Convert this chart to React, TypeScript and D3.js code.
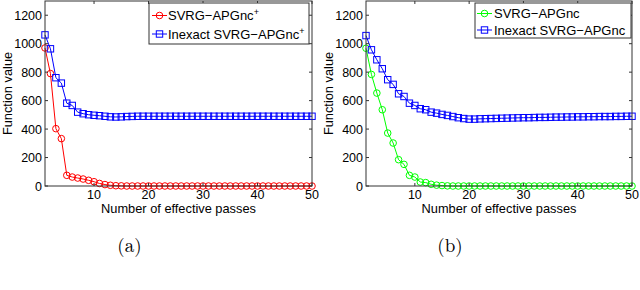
import React from 'react';
import * as d3 from 'd3';

const passes = d3.range(1, 51);

const svrgPlus = [970, 790, 403, 333, 75, 63, 56, 49, 40, 30, 18, 10, 5, 2, 1, 0, 0, 0, 0, 0,
  0, 0, 0, 0, 0, 0, 0, 0, 0, 0, 0, 0, 0, 0, 0, 0, 0, 0, 0, 0, 0, 0, 0, 0, 0, 0, 0, 0, 0, 0];
const inexactPlus = [1062, 964, 761, 723, 582, 566, 519, 508, 501, 497, 494, 490, 486, 485, 486, 488, 489, 490, 490, 490,
  490, 490, 490, 490, 490, 490, 490, 490, 490, 490, 490, 490, 490, 490, 490, 490, 490, 490, 490, 490,
  490, 490, 490, 490, 490, 490, 490, 490, 490, 490];

const svrg = [968, 784, 653, 536, 372, 302, 185, 152, 75, 63, 28, 24, 12, 6, 3, 1, 0, 0, 0, 0,
  0, 0, 0, 0, 0, 0, 0, 0, 0, 0, 0, 0, 0, 0, 0, 0, 0, 0, 0, 0, 0, 0, 0, 0, 0, 0, 0, 0, 0, 0];
const inexact = [1057, 957, 887, 824, 747, 714, 648, 629, 582, 566, 543, 536, 519, 512, 503, 496, 488, 480, 474, 470,
  470, 472, 473, 474, 475, 476, 477, 478, 479, 480, 480, 481, 482, 482, 483, 484, 484, 485, 485, 486,
  486, 487, 487, 488, 488, 488, 489, 489, 490, 490];

const yTicks = [0, 200, 400, 600, 800, 1000, 1200];
const xTicks = [10, 20, 30, 40, 50];

const FONT = '"Liberation Sans", Arial, Helvetica, sans-serif';
const AXIS = '#333';

type Series = { name: string; sup: boolean; values: number[]; color: string; marker: 'circle' | 'square' };

const Marker = ({ kind, x, y, color }: { kind: string; x: number; y: number; color: string }) =>
  kind === 'circle' ? (
    <circle cx={x} cy={y} r={3.3} fill="none" stroke={color} strokeWidth={1} />
  ) : (
    <rect x={x - 3.2} y={y - 3.2} width={6.4} height={6.4} fill="none" stroke={color} strokeWidth={1} />
  );

const Panel = ({ left, right, series, legend, caption }: {
  left: number; right: number; series: Series[];
  legend: { x0: number; x1: number; y0: number; y1: number; rows: number[]; sx: number; tx: number };
  caption: string;
}) => {
  const top = 1, bottom = 186;
  const x = d3.scaleLinear().domain([1, 50]).range([left, right]);
  const y = d3.scaleLinear().domain([0, 1300]).range([bottom, top]);
  const line = d3.line<number>().x((_, i) => x(passes[i])).y((d) => y(d));
  const cx = (left + right) / 2;

  return (
    <g>
      {series.map((s) => (
        <g key={s.name}>
          <path d={line(s.values) || ''} fill="none" stroke={s.color} strokeWidth={1} />
          {s.values.map((v, i) => (
            <Marker key={i} kind={s.marker} x={x(passes[i])} y={y(v)} color={s.color} />
          ))}
        </g>
      ))}
      <rect x={left} y={top} width={right - left} height={bottom - top} fill="none" stroke={AXIS} strokeWidth={1} />
      {yTicks.map((t) => (
        <g key={t}>
          <line x1={left} x2={left + 3} y1={y(t)} y2={y(t)} stroke={AXIS} />
          <line x1={right} x2={right - 3} y1={y(t)} y2={y(t)} stroke={AXIS} />
          <text x={left - 3} y={y(t)} dy="0.36em" textAnchor="end" fontSize={12.5} fontFamily={FONT}>{t}</text>
        </g>
      ))}
      {xTicks.map((t) => (
        <g key={t}>
          <line x1={x(t)} x2={x(t)} y1={bottom} y2={bottom - 3} stroke={AXIS} />
          <line x1={x(t)} x2={x(t)} y1={top} y2={top + 3} stroke={AXIS} />
          <text x={x(t)} y={198.5} textAnchor="middle" fontSize={12.5} fontFamily={FONT}>{t}</text>
        </g>
      ))}
      <text x={cx} y={212.5} textAnchor="middle" fontSize={12.8} fontFamily={FONT}>Number of effective passes</text>
      <text transform={`translate(${left - 33.5},${(top + bottom) / 2}) rotate(-90)`} textAnchor="middle"
        fontSize={12.8} fontFamily={FONT}>Function value</text>

      <rect x={legend.x0} y={legend.y0} width={legend.x1 - legend.x0} height={legend.y1 - legend.y0}
        fill="#fff" stroke={AXIS} strokeWidth={1} />
      {series.map((s, i) => (
        <g key={s.name}>
          <line x1={legend.sx} x2={legend.sx + 15} y1={legend.rows[i]} y2={legend.rows[i]} stroke={s.color} />
          <Marker kind={s.marker} x={legend.sx + 7.5} y={legend.rows[i]} color={s.color} />
          <text x={legend.tx} y={legend.rows[i]} dy="0.36em" fontSize={13} fontFamily={FONT}>
            {s.name}
            {s.sup && <tspan fontSize={9} dy="-0.55em">+</tspan>}
          </text>
        </g>
      ))}
      <text x={cx - 49} y={252} textAnchor="middle" fontSize={19}
        fontFamily='"Latin Modern Roman", "CMU Serif", "Liberation Serif", serif'>{caption}</text>
    </g>
  );
};

export default function App() {
  return (
    <svg width={640} height={290} style={{ position: 'absolute', left: 0, top: 0, background: '#fff' }}>
      <Panel
        left={45} right={312}
        series={[
          { name: 'SVRG\u2212APGnc', sup: true, values: svrgPlus, color: '#ff0000', marker: 'circle' },
          { name: 'Inexact SVRG\u2212APGnc', sup: true, values: inexactPlus, color: '#0000ff', marker: 'square' },
        ]}
        legend={{ x0: 149, x1: 309, y0: 3, y1: 44, rows: [15.5, 34], sx: 152, tx: 168 }}
        caption="(a)"
      />
      <Panel
        left={366} right={632}
        series={[
          { name: 'SVRG\u2212APGnc', sup: false, values: svrg, color: '#00ff00', marker: 'circle' },
          { name: 'Inexact SVRG\u2212APGnc', sup: false, values: inexact, color: '#0000ff', marker: 'square' },
        ]}
        legend={{ x0: 475, x1: 631, y0: 3, y1: 38, rows: [13.5, 30], sx: 477, tx: 494 }}
        caption="(b)"
      />
    </svg>
  );
}
